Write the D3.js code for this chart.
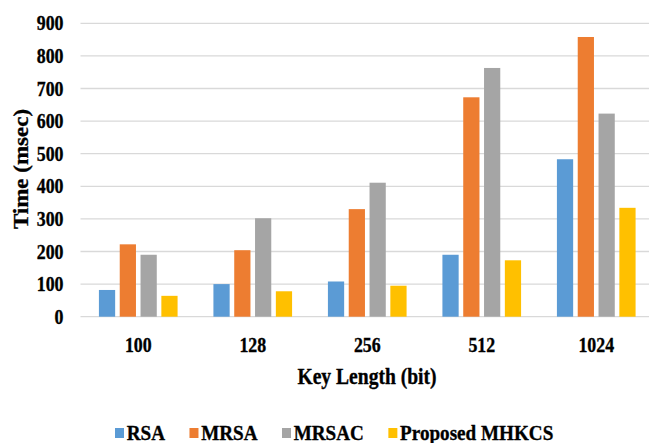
<!DOCTYPE html>
<html>
<head>
<meta charset="utf-8">
<script src="https://cdn.jsdelivr.net/npm/d3@7"></script>
<style>
  html, body { margin: 0; padding: 0; background: #fff; }
  svg { display: block; }
</style>
</head>
<body>
<svg id="chart" width="649" height="443"></svg>
<script>
// Key lengths (bits) on the x axis
const keyLengths = ["100", "128", "256", "512", "1024"];
// Series names and colours
const seriesNames = ["RSA", "MRSA", "MRSAC", "Proposed MHKCS"];
const seriesColors = ["#5B9BD5", "#ED7D31", "#A5A5A5", "#FFC000"];
// Encryption time (msec) per key length
const rsaTimes = [82, 100, 108, 190, 483];
const mrsaTimes = [222, 204, 330, 673, 858];
const mrsacTimes = [190, 302, 411, 763, 623];
const mhkcsTimes = [64, 78, 95, 173, 334];
// Y axis ticks
const yTicks = [0, 100, 200, 300, 400, 500, 600, 700, 800, 900];

const seriesValues = [rsaTimes, mrsaTimes, mrsacTimes, mhkcsTimes];
const rows = keyLengths.map((k, i) => ({
  key: k,
  values: seriesNames.map((s, j) => ({ series: s, color: seriesColors[j], value: seriesValues[j][i] }))
}));

const svg = d3.select("#chart");
const squeeze = 0.87; // narrow glyph width
const fontFamily = "'Liberation Serif', 'Times New Roman', serif";

const x0 = d3.scaleBand().domain(keyLengths).range([81, 653.5]).paddingInner(0.313).paddingOuter(0.1565);
const x1 = d3.scaleBand().domain(seriesNames).range([0, x0.bandwidth()]).paddingInner(0.22);
const y = d3.scaleLinear().domain([0, 900]).range([316.7, 23.3]);

// Horizontal gridlines
svg.append("g").selectAll("line").data(yTicks).join("line")
  .attr("x1", 80.5).attr("x2", 649)
  .attr("y1", d => y(d)).attr("y2", d => y(d))
  .attr("stroke", "#D9D9D9").attr("stroke-width", 1.3);

// Bars
svg.append("g").selectAll("g").data(rows).join("g")
  .attr("transform", d => `translate(${x0(d.key)},0)`)
  .selectAll("rect").data(d => d.values).join("rect")
  .attr("x", d => x1(d.series))
  .attr("width", x1.bandwidth())
  .attr("y", d => y(d.value))
  .attr("height", d => y(0) - y(d.value))
  .attr("fill", d => d.color);

function label(x, y0, txt, size, anchor, rotate) {
  const g = svg.append("g").attr("transform", `translate(${x},${y0})` + (rotate ? " rotate(-90)" : ""));
  return g.append("text").text(txt)
    .attr("font-family", fontFamily).attr("font-weight", "bold")
    .attr("font-size", size).attr("text-anchor", anchor)
    .attr("fill", "#000").attr("stroke", "#000").attr("stroke-width", 0.35)
    .attr("transform", rotate ? `scale(1,${squeeze})` : `scale(${squeeze},1)`);
}

// Y tick labels
yTicks.forEach(v => label(63.5, y(v) + 7, String(v), 20.5, "end"));
// X tick labels
keyLengths.forEach(k => label(x0(k) + x0.bandwidth() / 2, 352.3, k, 20.5, "middle"));

// Axis titles
label(367, 384, "Key Length (bit)", 22.5, "middle");
label(28.3, 169, "Time (msec)", 23, "middle", true);

// Legend
let lx = 115;
seriesNames.forEach((s, i) => {
  svg.append("rect").attr("x", lx).attr("y", 428).attr("width", 9).attr("height", 10).attr("fill", seriesColors[i]);
  const t = label(lx + 11.7, 440, s, 22, "start");
  const w = t.node().getComputedTextLength() * squeeze;
  lx += 11.7 + w + 24.5;
});
</script>
</body>
</html>
